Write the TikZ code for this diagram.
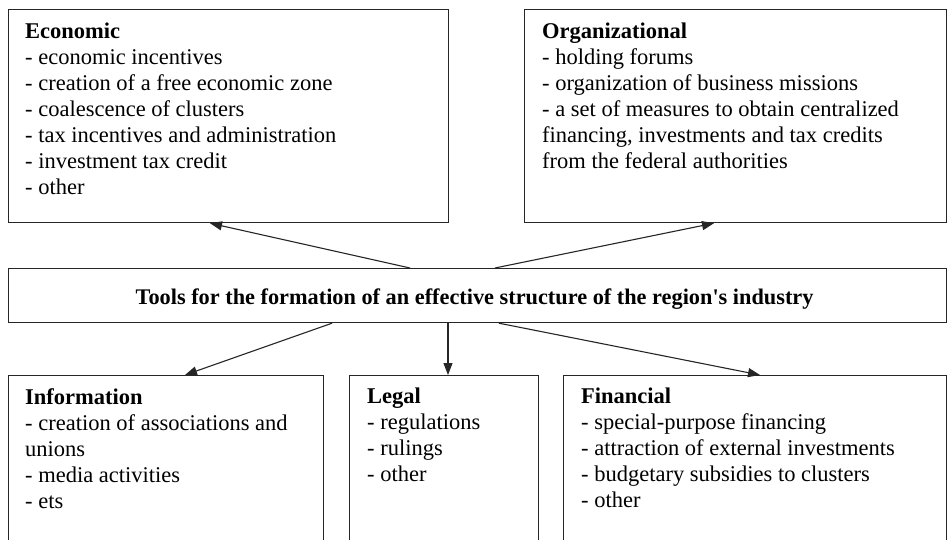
\documentclass[tikz,border=0pt]{standalone}
\usepackage{fontspec}
\setmainfont{Liberation Serif}
\usetikzlibrary{arrows.meta}
\begin{document}
\begin{tikzpicture}[x=1pt,y=-1pt,
  box/.style={draw=black!85,line width=1.2pt,rectangle,anchor=north west,inner sep=0pt},
  txt/.style={anchor=north west,align=left,inner sep=0pt,font=\fontsize{22.5}{26}\selectfont,text=black},
  ttl/.style={inner sep=0pt,font=\fontsize{22.3}{24}\selectfont\bfseries,text=black},
  arr/.style={draw=black!85,line width=1.1pt,-{Triangle[length=12pt,width=9pt]}}]
\clip (0,0) rectangle (948,540);
\fill[white] (0,0) rectangle (948,540);
% boxes
\node[box,minimum width=440pt,minimum height=213pt] (eco) at (8,9) {};
\node[box,minimum width=422pt,minimum height=213pt] (org) at (524,9) {};
\node[box,minimum width=938pt,minimum height=54pt] (bar) at (8,268) {};
\node[box,minimum width=315pt,minimum height=200pt] (inf) at (8,375) {};
\node[box,minimum width=189pt,minimum height=200pt] (leg) at (349,375) {};
\node[box,minimum width=383pt,minimum height=200pt] (fin) at (563,375) {};
% texts
\node[txt] (ecot) at ([xshift=17pt,yshift=-14pt]eco.north west) {\textbf{Economic}\\- economic incentives\\- creation of a free economic zone\\- coalescence of clusters\\- tax incentives and administration\\- investment tax credit\\- other};
\node[txt] (orgt) at ([xshift=18pt,yshift=-14pt]org.north west) {\textbf{Organizational}\\- holding forums\\- organization of business missions\\- a set of measures to obtain centralized\\financing, investments and tax credits\\from the federal authorities};
\node[txt] (inft) at ([xshift=17pt,yshift=-13pt]inf.north west) {\textbf{Information}\\- creation of associations and\\unions\\- media activities\\- ets};
\node[txt] (legt) at ([xshift=18pt,yshift=-13pt]leg.north west) {\textbf{Legal}\\- regulations\\- rulings\\- other};
\node[txt] (fint) at ([xshift=18pt,yshift=-13pt]fin.north west) {\textbf{Financial}\\- special-purpose financing\\- attraction of external investments\\- budgetary subsidies to clusters\\- other};
\node[ttl] (bart) at ([xshift=-3pt,yshift=-4pt]bar.center) {Tools for the formation of an effective structure of the region\textquotesingle s industry};
% arrows
\draw[arr] ([xshift=402pt]bar.north west) -- ([xshift=202pt]eco.south west);
\draw[arr] ([xshift=487pt]bar.north west) -- ([xshift=190pt]org.south west);
\draw[arr] ([xshift=324pt]bar.south west) -- ([xshift=177pt]inf.north west);
\draw[arr] ([xshift=440pt]bar.south west) -- ([xshift=99pt]leg.north west);
\draw[arr] ([xshift=491pt]bar.south west) -- ([xshift=197pt]fin.north west);
\end{tikzpicture}
\end{document}
